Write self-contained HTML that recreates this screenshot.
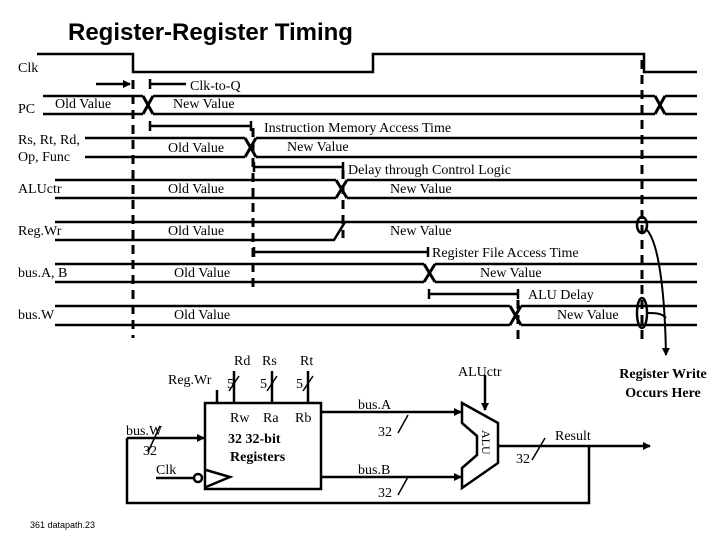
<!DOCTYPE html>
<html><head><meta charset="utf-8"><style>
body{margin:0;background:#fff}
svg{display:block}
text{font-family:"Liberation Serif",serif;font-size:14px;fill:#000}
.s{font-family:"Liberation Sans",sans-serif}
</style></head><body>
<svg width="720" height="540" viewBox="0 0 720 540" xmlns="http://www.w3.org/2000/svg">
<defs>
<marker id="a" markerWidth="8" markerHeight="8" refX="7" refY="4" orient="auto" markerUnits="userSpaceOnUse"><path d="M0,0 L8,4 L0,8z"/></marker>
</defs>
<text x="68" y="40" class="s" style="font-size:24px;font-weight:bold">Register-Register Timing</text>
<g stroke="#000" stroke-width="2.5" fill="none">
<polyline points="37,54 133,54 133,72 373,72 373,54 644,54 644,72 697,72"/>
<line x1="43" y1="96" x2="143" y2="96"/><line x1="43" y1="114" x2="143" y2="114"/>
<line x1="153" y1="96" x2="655" y2="96"/><line x1="153" y1="114" x2="655" y2="114"/>
<line x1="665" y1="96" x2="697" y2="96"/><line x1="665" y1="114" x2="697" y2="114"/>
<line x1="85" y1="138" x2="245" y2="138"/><line x1="85" y1="157" x2="245" y2="157"/>
<line x1="256" y1="138" x2="697" y2="138"/><line x1="256" y1="157" x2="697" y2="157"/>
<line x1="55" y1="180" x2="336" y2="180"/><line x1="55" y1="198" x2="336" y2="198"/>
<line x1="347" y1="180" x2="697" y2="180"/><line x1="347" y1="198" x2="697" y2="198"/>
<line x1="55" y1="222" x2="697" y2="222"/><polyline points="55,240 334,240 345,222"/>
<line x1="55" y1="264" x2="424" y2="264"/><line x1="55" y1="282" x2="424" y2="282"/>
<line x1="435" y1="264" x2="697" y2="264"/><line x1="435" y1="282" x2="697" y2="282"/>
<line x1="55" y1="306" x2="510" y2="306"/><line x1="55" y1="325" x2="510" y2="325"/>
<line x1="521" y1="306" x2="697" y2="306"/><line x1="521" y1="325" x2="697" y2="325"/>
</g>
<g stroke="#000" stroke-width="3" stroke-dasharray="9,6">
<line x1="133" y1="80" x2="133" y2="338"/>
<line x1="253" y1="128" x2="253" y2="293"/>
<line x1="343" y1="170" x2="343" y2="238"/>
<line x1="518" y1="300" x2="518" y2="340"/>
<line x1="642" y1="60" x2="642" y2="340"/>
</g>
<g stroke="#000" stroke-width="3">
<path d="M143,96 L153,114 M153,96 L143,114"/>
<path d="M655,96 L665,114 M665,96 L655,114"/>
<path d="M245,138 L256,157 M256,138 L245,157"/>
<path d="M336,180 L347,198 M347,180 L336,198"/>
<path d="M424,264 L435,282 M435,264 L424,282"/>
<path d="M510,306 L521,325 M521,306 L510,325"/>
</g>
<g stroke="#000" stroke-width="2.5" fill="none">
<line x1="96" y1="84" x2="130" y2="84" marker-end="url(#a)"/>
<line x1="150" y1="84" x2="186" y2="84"/><line x1="150" y1="79" x2="150" y2="89"/>
<line x1="150" y1="126" x2="250" y2="126"/><line x1="150" y1="121" x2="150" y2="131"/><line x1="251" y1="121" x2="251" y2="131"/>
<line x1="253" y1="167" x2="342" y2="167"/><line x1="254" y1="162" x2="254" y2="172"/><line x1="343" y1="162" x2="343" y2="172"/>
<line x1="253" y1="252" x2="428" y2="252"/><line x1="254" y1="247" x2="254" y2="257"/><line x1="428" y1="247" x2="428" y2="257"/>
<line x1="428" y1="294" x2="518" y2="294"/><line x1="429" y1="289" x2="429" y2="299"/><line x1="518" y1="289" x2="518" y2="299"/>
<ellipse cx="642" cy="225" rx="5" ry="8"/>
<ellipse cx="642" cy="313" rx="5" ry="15"/>
<path d="M647,230 C660,245 665,300 666,355" marker-end="url(#a)" stroke-width="2"/>
<path d="M647,313 C655,313 662,313 666,318" stroke-width="2"/>
</g>
<text x="18" y="72">Clk</text>
<text x="190" y="90">Clk-to-Q</text>
<text x="18" y="113">PC</text>
<text x="55" y="108">Old Value</text>
<text x="173" y="108">New Value</text>
<text x="264" y="132">Instruction Memory Access Time</text>
<text x="18" y="144">Rs, Rt, Rd,</text>
<text x="18" y="161">Op, Func</text>
<text x="168" y="152">Old Value</text>
<text x="287" y="151">New Value</text>
<text x="348" y="174">Delay through Control Logic</text>
<text x="18" y="193">ALUctr</text>
<text x="168" y="193">Old Value</text>
<text x="390" y="193">New Value</text>
<text x="18" y="235">Reg.Wr</text>
<text x="168" y="235">Old Value</text>
<text x="390" y="235">New Value</text>
<text x="432" y="257">Register File Access Time</text>
<text x="18" y="277">bus.A, B</text>
<text x="174" y="277">Old Value</text>
<text x="480" y="277">New Value</text>
<text x="528" y="299">ALU Delay</text>
<text x="18" y="319">bus.W</text>
<text x="174" y="319">Old Value</text>
<text x="557" y="319">New Value</text>
<g stroke="#000" stroke-width="2.5" fill="none">
<rect x="205" y="403" width="116" height="86"/>
<line x1="217" y1="390" x2="217" y2="403"/>
<line x1="234" y1="371" x2="234" y2="403"/>
<line x1="272" y1="371" x2="272" y2="403"/>
<line x1="308" y1="371" x2="308" y2="403"/>
<path d="M229,391 L239,376 M267,391 L277,376 M303,391 L313,376" stroke-width="1.5"/>
<line x1="156" y1="478" x2="194" y2="478"/>
<circle cx="198" cy="478" r="4"/>
<polyline points="206,470 230,477 206,487" />
<line x1="127" y1="438" x2="204" y2="438" marker-end="url(#a)"/>
<polyline points="127,438 127,503 589,503 589,446"/>
<path d="M148,452 L160,426" stroke-width="1.5"/>
<line x1="321" y1="412" x2="461" y2="412" marker-end="url(#a)"/>
<line x1="321" y1="477" x2="461" y2="477" marker-end="url(#a)"/>
<path d="M398,433 L408,415 M398,495 L408,477" stroke-width="1.5"/>
<polygon points="462,403 498,423 498,463 462,488 462,468 477,455 477,436 462,423"/>
<line x1="485" y1="375" x2="485" y2="410" marker-end="url(#a)"/>
<line x1="498" y1="446" x2="650" y2="446" marker-end="url(#a)"/>
<path d="M532,460 L545,438" stroke-width="1.5"/>
</g>
<text x="168" y="384">Reg.Wr</text>
<text x="234" y="365">Rd</text><text x="262" y="365">Rs</text><text x="300" y="365">Rt</text>
<text x="227" y="388">5</text><text x="260" y="388">5</text><text x="296" y="388">5</text>
<text x="230" y="422">Rw</text><text x="263" y="422">Ra</text><text x="295" y="422">Rb</text>
<text x="228" y="443" style="font-weight:bold">32 32-bit</text>
<text x="230" y="461" style="font-weight:bold">Registers</text>
<text x="126" y="435">bus.W</text>
<text x="143" y="455">32</text>
<text x="156" y="474">Clk</text>
<text x="358" y="409">bus.A</text><text x="378" y="436">32</text>
<text x="358" y="474">bus.B</text><text x="378" y="497">32</text>
<text x="458" y="376">ALUctr</text>
<text transform="translate(482,430) rotate(90)" style="font-size:12px">ALU</text>
<text x="555" y="440">Result</text>
<text x="516" y="463">32</text>
<text x="663" y="378" text-anchor="middle" style="font-weight:bold">Register Write</text>
<text x="663" y="397" text-anchor="middle" style="font-weight:bold">Occurs Here</text>
<text x="30" y="528" class="s" style="font-size:9px">361 datapath.23</text>
</svg>
</body></html>
